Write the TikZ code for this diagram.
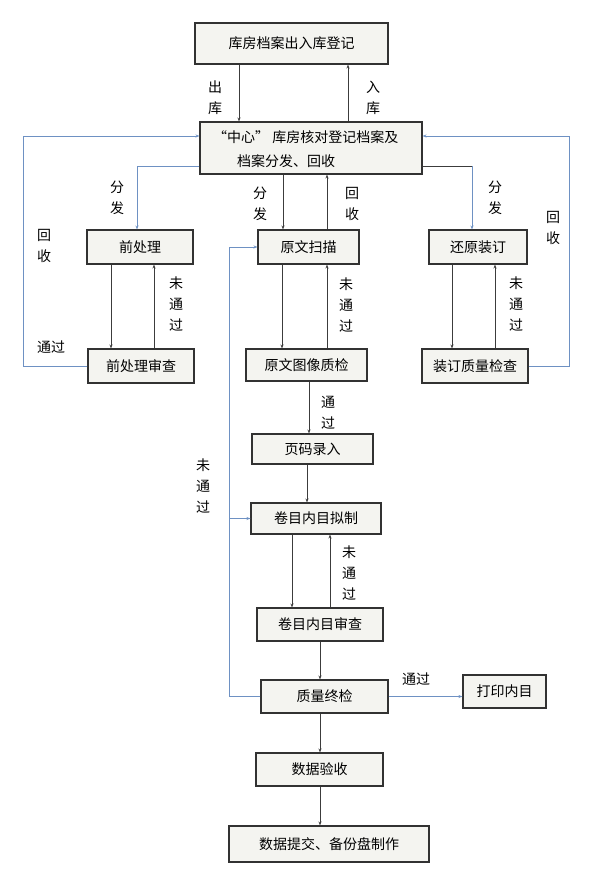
\documentclass[tikz,border=0pt]{standalone}
\usepackage{fontspec}
\setmainfont{Noto Sans CJK SC}
\usetikzlibrary{arrows.meta}
\definecolor{boxfill}{RGB}{244,244,240}
\definecolor{boxline}{RGB}{50,50,50}
\definecolor{lineblue}{RGB}{110,145,195}
\definecolor{linedark}{RGB}{60,60,60}
\begin{document}
\begin{tikzpicture}[x=1pt,y=-1pt,
  box/.style={draw=boxline, line width=1.1pt, fill=boxfill, inner sep=0pt, font=\fontsize{14}{16}\selectfont},
  lbl/.style={inner sep=0pt, align=center, font=\fontsize{14}{21}\selectfont},
  arr/.style={draw=linedark, line width=0.8pt, -{Stealth[length=4pt,width=3pt]}},
  blu/.style={draw=lineblue, line width=1pt},
  bluarr/.style={blu, -{Stealth[length=4pt,width=3pt]}}]
\useasboundingbox[fill=white] (0,0) rectangle (595,883);

% boxes
\node[box, minimum width=193pt, minimum height=41pt] (b1) at (291.5,43.5) {库房档案出入库登记};
\node[box, minimum width=222pt, minimum height=52pt] (b2) at (311,148) {};
\node[inner sep=0pt, anchor=west, align=left, font=\fontsize{14}{24}\selectfont] (b2t) at (213,149) {“中心” 库房核对登记档案及\\\hspace*{24pt}档案分发、回收};
\node[box, minimum width=106pt, minimum height=34pt] (pre) at (140,247) {前处理};
\node[box, minimum width=101pt, minimum height=34pt] (scan) at (308.5,247) {原文扫描};
\node[box, minimum width=98pt, minimum height=34pt] (bind) at (478,247) {还原装订};
\node[box, minimum width=106pt, minimum height=34pt] (prechk) at (141,366) {前处理审查};
\node[box, minimum width=121pt, minimum height=32pt] (imgchk) at (306.5,365) {原文图像质检};
\node[box, minimum width=106pt, minimum height=34pt] (bindchk) at (475,366) {装订质量检查};
\node[box, minimum width=121pt, minimum height=30pt] (page) at (312.5,449) {页码录入};
\node[box, minimum width=130pt, minimum height=31pt] (draft) at (316,518.5) {卷目内目拟制};
\node[box, minimum width=126pt, minimum height=33pt] (review) at (320,624.5) {卷目内目审查};
\node[box, minimum width=127pt, minimum height=33pt] (final) at (324.5,696.5) {质量终检};
\node[box, minimum width=83pt, minimum height=33pt] (print) at (504.5,691.5) {打印内目};
\node[box, minimum width=127pt, minimum height=33pt] (accept) at (319.5,769.5) {数据验收};
\node[box, minimum width=200pt, minimum height=36pt] (submit) at (329,844) {数据提交、备份盘制作};

% column / row helpers
\coordinate (c23) at (23,0);
\coordinate (c111) at (111,0);
\coordinate (c137) at (137,0);
\coordinate (c154) at (154,0);
\coordinate (c229) at (229,0);
\coordinate (c239) at (239,0);
\coordinate (c282) at (282,0);
\coordinate (c283) at (283,0);
\coordinate (c292) at (292,0);
\coordinate (c307) at (307,0);
\coordinate (c309) at (309,0);
\coordinate (c320) at (320,0);
\coordinate (c327) at (327,0);
\coordinate (c330) at (330,0);
\coordinate (c348) at (348,0);
\coordinate (c452) at (452,0);
\coordinate (c472) at (472,0);
\coordinate (c495) at (495,0);
\coordinate (c569) at (569,0);
\coordinate (r136) at (0,136);
\coordinate (r166) at (0,166);

% connectors
\draw[arr] (b1.south -| c239) -- (b2.north -| c239);
\draw[arr] (b2.north -| c348) -- (b1.south -| c348);
\draw[bluarr] (b2.west |- r166) -- (c137 |- r166) -- (pre.north -| c137);
\draw[draw=linedark, line width=0.8pt] (b2.east |- r166) -- (c472 |- r166);
\draw[bluarr] (c472 |- r166) -- (bind.north -| c472);
\draw[arr] (b2.south -| c283) -- (scan.north -| c283);
\draw[arr] (scan.north -| c327) -- (b2.south -| c327);
\draw[arr] (pre.south -| c111) -- (prechk.north -| c111);
\draw[arr] (prechk.north -| c154) -- (pre.south -| c154);
\draw[arr] (scan.south -| c282) -- (imgchk.north -| c282);
\draw[arr] (imgchk.north -| c327) -- (scan.south -| c327);
\draw[arr] (bind.south -| c452) -- (bindchk.north -| c452);
\draw[arr] (bindchk.north -| c495) -- (bind.south -| c495);
\draw[bluarr] (prechk.west) -- (c23 |- prechk.west) -- (c23 |- r136) -- (b2.west |- r136);
\draw[bluarr] (bindchk.east) -- (c569 |- bindchk.east) -- (c569 |- r136) -- (b2.east |- r136);
\draw[arr] (imgchk.south -| c309) -- (page.north -| c309);
\draw[arr] (page.south -| c307) -- (draft.north -| c307);
\draw[blu] (final.west) -- (c229 |- final.west) -- (c229 |- scan.west);
\draw[bluarr] (c229 |- scan.west) -- (scan.west);
\draw[bluarr] (c229 |- draft.west) -- (draft.west);
\draw[arr] (draft.south -| c292) -- (review.north -| c292);
\draw[arr] (review.north -| c330) -- (draft.south -| c330);
\draw[arr] (review.south -| c320) -- (final.north -| c320);
\draw[bluarr] (final.east) -- (final.east -| print.west);
\draw[arr] (final.south -| c320) -- (accept.north -| c320);
\draw[arr] (accept.south -| c320) -- (submit.north -| c320);

% labels
\node[lbl] (l1) at (215,98) {出\\库};
\node[lbl] (l2) at (373,98) {入\\库};
\node[lbl] (l3) at (117,197.5) {分\\发};
\node[lbl] (l4) at (260,204) {分\\发};
\node[lbl] (l5) at (352,203.5) {回\\收};
\node[lbl] (l6) at (495,197.5) {分\\发};
\node[lbl] (l7) at (553,227.5) {回\\收};
\node[lbl] (l8) at (44,246) {回\\收};
\node[lbl] (l9) at (51,347) {通过};
\node[lbl] (l10) at (176,304.5) {未\\通\\过};
\node[lbl] (l11) at (346,305) {未\\通\\过};
\node[lbl] (l12) at (516,304) {未\\通\\过};
\node[lbl] (l13) at (328,412.5) {通\\过};
\node[lbl] (l14) at (203,486.5) {未\\通\\过};
\node[lbl] (l15) at (349,573.5) {未\\通\\过};
\node[lbl] (l16) at (416,679) {通过};
\end{tikzpicture}
\end{document}
